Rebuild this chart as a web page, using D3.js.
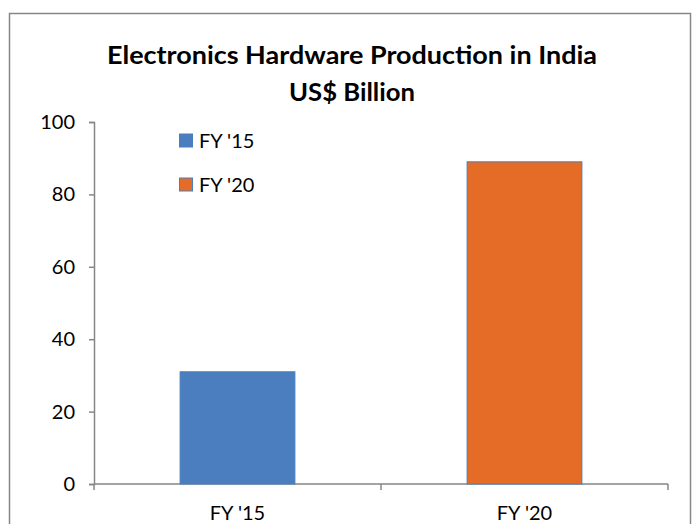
<!DOCTYPE html>
<html lang="en">
<head>
  <meta charset="UTF-8">
  <title>Electronics Hardware Production in India</title>
  <script src="https://d3js.org/d3.v7.min.js"></script>
  <style>
    body {
      margin: 0;
      background: #fff;
      font-family: Lato, "Open Sans", sans-serif;
    }
    svg { display: block; }
  </style>
</head>
<body>
  <div id="chart"></div>

  <script>
    // data
    const categories = ["FY '15", "FY '20"];
    const values = [31, 89];
    const colors = ["#4a7ebe", "#e46c27"];
    const yTicks = [0, 20, 40, 60, 80, 100];
    const titleLines = ["Electronics Hardware Production in India", "US$ Billion"];

    const width = 693, height = 524;
    const margin = {top: 122, right: 25, bottom: 40, left: 94};

    const svg = d3.select("#chart")
                  .append("svg")
                  .attr("width", width)
                  .attr("height", height);

    // 外框
    svg.append("rect")
       .attr("x", 9.5).attr("y", 13.5)
       .attr("width", 681).attr("height", 530)
       .attr("fill", "none")
       .attr("stroke", "#878787")
       .attr("stroke-width", 1.5);

    const x = d3.scaleBand()
                .domain(categories)
                .range([margin.left, width - margin.right])
                .paddingInner(0.6)
                .paddingOuter(0.3);

    const xAxisScale = d3.scaleBand()
                .domain(categories)
                .range([margin.left, width - margin.right]);

    const y = d3.scaleLinear()
                .domain([0, 100])
                .range([height - margin.bottom, margin.top]);

    // 标题
    const title = svg.append("text")
       .attr("text-anchor", "middle")
       .attr("font-weight", "bold")
       .attr("font-size", 24)
       .attr("fill", "#000");
    title.append("tspan").attr("x", 352).attr("y", 64)
         .attr("textLength", 490).attr("lengthAdjust", "spacingAndGlyphs")
         .text(titleLines[0]);
    title.append("tspan").attr("x", 352).attr("y", 101)
         .attr("textLength", 126).attr("lengthAdjust", "spacingAndGlyphs")
         .text(titleLines[1]);

    // y axis
    const yAxis = svg.append("g")
       .attr("transform", `translate(${margin.left},0)`)
       .call(d3.axisLeft(y).tickValues(yTicks).tickSize(5).tickPadding(14));
    yAxis.selectAll("path, line").attr("stroke", "#868686").attr("stroke-width", 1.5);
    yAxis.selectAll("text")
         .attr("font-family", "Lato, sans-serif")
         .attr("font-size", 20)
         .attr("fill", "#000");

    // x axis line + ticks at category boundaries
    const xg = svg.append("g").attr("transform", `translate(0,${y(0)})`);
    xg.append("line")
      .attr("x1", margin.left).attr("x2", width - margin.right)
      .attr("stroke", "#868686").attr("stroke-width", 1.5);
    const bounds = categories.map(c => xAxisScale(c)).concat([width - margin.right]);
    xg.selectAll(".tk")
      .data(bounds)
      .join("line")
      .attr("class", "tk")
      .attr("x1", d => d).attr("x2", d => d)
      .attr("y1", 0).attr("y2", 6)
      .attr("stroke", "#868686").attr("stroke-width", 1.5);
    xg.selectAll(".lbl")
      .data(categories)
      .join("text")
      .attr("class", "lbl")
      .attr("x", d => xAxisScale(d) + xAxisScale.bandwidth() / 2)
      .attr("y", 36)
      .attr("text-anchor", "middle")
      .attr("font-size", 20)
      .attr("fill", "#000")
      .text(d => d);

    // bars
    svg.selectAll(".bar")
       .data(values)
       .join("rect")
       .attr("class", "bar")
       .attr("x", (d, i) => x(categories[i]))
       .attr("y", d => y(d))
       .attr("width", x.bandwidth())
       .attr("height", d => y(0) - y(d))
       .attr("fill", (d, i) => colors[i])
       .attr("stroke", "#4a7ebe")
       .attr("stroke-width", 1);

    // legend
    const legend = svg.append("g");
    categories.forEach((c, i) => {
      const ly = 141 + i * 44;
      legend.append("rect")
        .attr("x", 179.5).attr("y", ly - 7)
        .attr("width", 13).attr("height", 13)
        .attr("fill", colors[i])
        .attr("stroke", "#4a7ebe")
        .attr("stroke-width", 1);
      legend.append("text")
        .attr("x", 199).attr("y", ly)
        .attr("dy", "0.35em")
        .attr("font-size", 20)
        .attr("fill", "#000")
        .text(c);
    });
  </script>
</body>
</html>
